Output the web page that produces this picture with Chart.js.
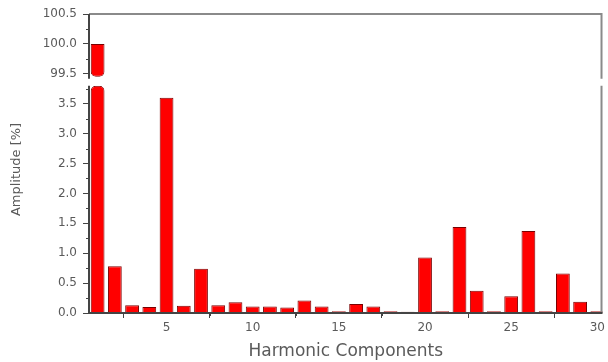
<!DOCTYPE html>
<html>
<head>
<meta charset="utf-8">
<title>Harmonic Components</title>
<script src="https://cdn.jsdelivr.net/npm/chart.js@4/dist/chart.umd.min.js"></script>
<style>
    body { margin: 0; background: #fff; }
</style>
</head>
<body>
<canvas id="chart" width="608" height="362"></canvas>
<script>
// harmonic order and amplitude in % of the fundamental
const harmonics = [1, 2, 3, 4, 5, 6, 7, 8, 9, 10, 11, 12, 13, 14, 15, 16, 17, 18, 19, 20, 21, 22, 23, 24, 25, 26, 27, 28, 29, 30];
const amplitude = [100, 0.78, 0.13, 0.10, 3.60, 0.12, 0.74, 0.13, 0.18, 0.11, 0.11, 0.09, 0.21, 0.11, 0.03, 0.15, 0.11, 0.03, 0.02, 0.93, 0.03, 1.44, 0.37, 0.03, 0.28, 1.37, 0.03, 0.66, 0.19, 0.03];
const xTicks = [5, 10, 15, 20, 25, 30];
const lowerTicks = [0, 0.5, 1.0, 1.5, 2.0, 2.5, 3.0, 3.5];
const upperTicks = [99.5, 100.0, 100.5];
const yTitle = 'Amplitude [%]';

// broken axis ranges
const lowerMax = 3.8;
const upperMin = 99.3;
const upperMax = 100.5;
const breakStart = 99.45;

document.addEventListener('DOMContentLoaded', function () {
    const canvas = document.getElementById('chart');
    const axisColor = '#444';
    const textColor = '#5a5a5a';

    // bars below the break are cut at the top of the lower axis
    const lowerData = harmonics.map((h, i) => ({ x: h, y: Math.min(amplitude[i], lowerMax) }));
    // bars above the break start at the break and go to their value
    const upperData = [];
    harmonics.forEach((h, i) => {
        if (amplitude[i] > lowerMax) {
            upperData.push({ x: h, y: [breakStart, amplitude[i]] });
        }
    });

    function fixedTicks(list) {
        return function (scale) {
            scale.ticks = list.map(v => ({ value: v }));
        };
    }

    const framePlugin = {
        id: 'frame',
        afterDatasetsDraw(chart) {
            const { ctx, chartArea, scales } = chart;
            const { left, right, top, bottom } = chartArea;
            const gapTop = scales.y2.getPixelForValue(breakStart) + 2;
            const gapBottom = scales.y.getPixelForValue(lowerMax);

            ctx.save();
            ctx.lineWidth = 2;

            // top and right border, grey
            ctx.strokeStyle = '#8a8a8a';
            ctx.beginPath();
            ctx.moveTo(left, top);
            ctx.lineTo(right - 1, top);
            ctx.lineTo(right - 1, gapTop);
            ctx.moveTo(right - 1, gapBottom);
            ctx.lineTo(right - 1, bottom);
            ctx.stroke();

            // left and bottom axes with the break gap
            ctx.strokeStyle = axisColor;
            ctx.beginPath();
            ctx.moveTo(left, top);
            ctx.lineTo(left, gapTop);
            ctx.moveTo(left, gapBottom);
            ctx.lineTo(left, bottom);
            ctx.lineTo(right, bottom);
            ctx.stroke();

            // minor ticks
            ctx.lineWidth = 1;
            ctx.beginPath();
            for (let v = 2.5; v < 30; v += 5) {
                const px = Math.round(scales.x.getPixelForValue(v)) + 0.5;
                ctx.moveTo(px, bottom);
                ctx.lineTo(px, bottom + 3);
            }
            for (let v = 0.25; v < lowerMax; v += 0.5) {
                const py = Math.round(scales.y.getPixelForValue(v)) + 0.5;
                ctx.moveTo(left - 3, py);
                ctx.lineTo(left, py);
            }
            [99.75, 100.25].forEach(v => {
                const py = Math.round(scales.y2.getPixelForValue(v)) + 0.5;
                ctx.moveTo(left - 3, py);
                ctx.lineTo(left, py);
            });
            ctx.stroke();

            // y title centred on the whole broken axis
            ctx.translate(17, (top + bottom) / 2 + 6);
            ctx.rotate(-Math.PI / 2);
            ctx.fillStyle = textColor;
            ctx.font = '13px "DejaVu Sans"';
            ctx.textAlign = 'center';
            ctx.textBaseline = 'middle';
            ctx.fillText(yTitle, 0, 0);
            ctx.restore();
        }
    };

    const tickFont = { family: 'DejaVu Sans', size: 12 };
    const grid = { display: true, drawOnChartArea: false, drawTicks: true, tickLength: 6, color: axisColor, lineWidth: 1 };

    new Chart(canvas.getContext('2d'), {
        type: 'bar',
        data: {
            datasets: [
                {
                    label: 'Amplitude',
                    data: lowerData,
                    yAxisID: 'y',
                    backgroundColor: '#ff0000',
                    borderColor: '#7a0000',
                    borderWidth: 1,
                    borderSkipped: 'bottom',
                    borderRadius: ctx => (ctx.raw && ctx.raw.y >= lowerMax ? { topLeft: 5, topRight: 5 } : 0),
                    grouped: false,
                    barPercentage: 1,
                    categoryPercentage: 0.8
                },
                {
                    label: 'Amplitude (top)',
                    data: upperData,
                    yAxisID: 'y2',
                    backgroundColor: '#ff0000',
                    borderColor: '#7a0000',
                    borderWidth: 1,
                    borderSkipped: false,
                    borderRadius: { bottomLeft: 5, bottomRight: 5 },
                    grouped: false,
                    barPercentage: 1,
                    categoryPercentage: 0.8
                }
            ]
        },
        options: {
            responsive: false,
            animation: false,
            layout: { padding: { top: 14, right: 2, left: 4, bottom: 0 } },
            plugins: {
                legend: { display: false },
                tooltip: { enabled: false }
            },
            scales: {
                x: {
                    type: 'linear',
                    min: 0.5,
                    max: 30.3,
                    offset: false,
                    afterBuildTicks: fixedTicks(xTicks),
                    ticks: { font: tickFont, color: textColor, padding: 3, maxRotation: 0, autoSkip: false },
                    grid: Object.assign({}, grid, { tickLength: 5 }),
                    border: { display: false },
                    title: {
                        display: true,
                        text: 'Harmonic Components',
                        font: { family: 'DejaVu Sans', size: 17, lineHeight: 1.05 },
                        color: textColor,
                        padding: { top: 4, bottom: 1 }
                    },
                    afterFit: scale => { scale.height = 49; }
                },
                y: {
                    type: 'linear',
                    position: 'left',
                    stack: 'amp',
                    stackWeight: lowerMax,
                    min: 0,
                    max: lowerMax,
                    afterBuildTicks: fixedTicks(lowerTicks),
                    ticks: { font: tickFont, color: textColor, padding: 6, autoSkip: false, callback: v => v.toFixed(1) },
                    grid: grid,
                    border: { display: false },
                    afterFit: scale => { scale.width = 85; }
                },
                y2: {
                    type: 'linear',
                    position: 'left',
                    stack: 'amp',
                    stackWeight: upperMax - upperMin,
                    min: upperMin,
                    max: upperMax,
                    afterBuildTicks: fixedTicks(upperTicks),
                    ticks: { font: tickFont, color: textColor, padding: 6, autoSkip: false, callback: v => v.toFixed(1) },
                    grid: grid,
                    border: { display: false },
                    afterFit: scale => { scale.width = 85; }
                }
            }
        },
        plugins: [framePlugin]
    });
});
</script>
</body>
</html>
